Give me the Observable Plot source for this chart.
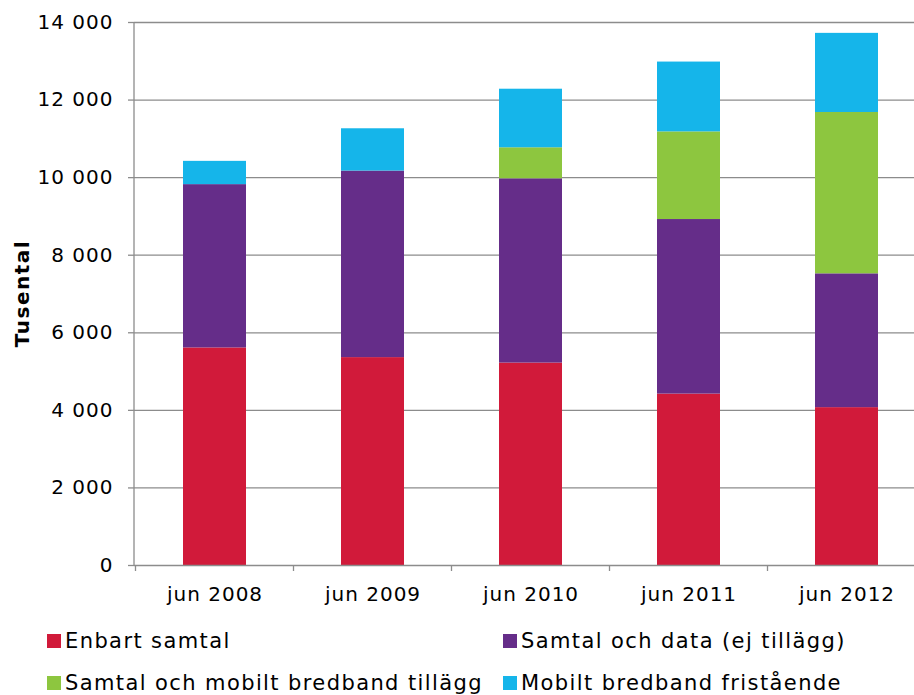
<!DOCTYPE html>
<html><head><meta charset="utf-8">
<script src="https://cdn.jsdelivr.net/npm/d3@7"></script>
<script src="https://cdn.jsdelivr.net/npm/@observablehq/plot@0.6"></script>
<style>
body{margin:0;background:#fff;font-family:"DejaVu Sans",sans-serif;}
#wrap{position:relative;width:914px;height:695px;overflow:hidden}
#chart svg{display:block}
.leg{position:absolute;display:flex;align-items:center;height:26px;font-size:21px;letter-spacing:1.4px;color:#000;white-space:nowrap}
.sw{width:14px;height:14px;margin-right:4px;flex:none}
</style></head><body>
<div id="wrap"><div id="chart"></div><div id="legend"></div></div>
<script>
const periods = ["jun 2008","jun 2009","jun 2010","jun 2011","jun 2012"];
const seriesNames = ["Enbart samtal","Samtal och data (ej tillägg)","Samtal och mobilt bredband tillägg","Mobilt bredband fristående"];
const enbartSamtal = [5610,5360,5220,4420,4070];
const samtalOchData = [4210,4810,4750,4500,3450];
const samtalMobiltTillagg = [0,0,800,2260,4160];
const mobiltFristaende = [600,1090,1510,1800,2040];
const seriesColors = ["#D11A3A","#652D89","#8DC63F","#15B5EA"];
const yTicks = [0,2000,4000,6000,8000,10000,12000,14000];
const yTitle = "Tusental";

const seriesValues = [enbartSamtal, samtalOchData, samtalMobiltTillagg, mobiltFristaende];
const rows = [];
seriesNames.forEach((s, si) => periods.forEach((p, pi) => {
  if (seriesValues[si][pi] > 0) rows.push({period: p, series: s, value: seriesValues[si][pi]});
}));

const fmt = d => d3.format(",")(d).replace(/,/g, " ");

function axisLines(index, scales, values, dimensions) {
  const x = scales.x, y = scales.y;
  const step = x.step(), bw = x.bandwidth();
  const root = d3.create("svg:g");
  const g = root.append("g").attr("stroke", "#8c8c8c").attr("stroke-width", 1.3);
  const y0 = y(0);
  g.append("line").attr("x1", dimensions.marginLeft).attr("x2", dimensions.marginLeft)
    .attr("y1", y(yTicks[yTicks.length-1])).attr("y2", y0);
  const bounds = periods.map(p => x(p) - (step - bw) / 2);
  bounds.push(x(periods[periods.length-1]) + bw + (step - bw) / 2);
  for (const b of bounds) {
    g.append("line").attr("x1", b).attr("x2", b).attr("y1", y0).attr("y2", y0 + 6);
  }
  const cy = (dimensions.marginTop + dimensions.height - dimensions.marginBottom) / 2;
  root.append("text")
    .attr("transform", `translate(${dimensions.marginLeft - 112},${cy}) rotate(-90)`)
    .attr("text-anchor", "middle").attr("dy", "0.35em")
    .attr("font-weight", "bold").attr("font-size", 20).attr("letter-spacing", "1.5px")
    .attr("fill", "#000").text(yTitle);
  return root.node();
}

const chart = Plot.plot({
  width: 914, height: 615,
  marginLeft: 134, marginRight: 0, marginTop: 22, marginBottom: 50,
  style: {fontFamily: "DejaVu Sans", fontSize: "20px", color: "#000", overflow: "visible", letterSpacing: "1px"},
  x: {domain: periods, range: [134, 926.5], paddingInner: 0.6, paddingOuter: 0.3, label: null},
  y: {domain: [0, 14000], label: null},
  color: {domain: seriesNames, range: seriesColors},
  marks: [
    Plot.ruleY(yTicks.filter(d => d > 0), {stroke: "#8c8c8c", strokeWidth: 1.3}),
    Plot.barY(rows, {x: "period", y: "value", fill: "series", order: seriesNames}),
    Plot.ruleY([0], {stroke: "#8c8c8c", strokeWidth: 1.3}),
    Plot.axisY({ticks: yTicks, tickSize: 6, tickPadding: 15, tickFormat: fmt, stroke: "#8c8c8c", strokeWidth: 1.3, label: null}),
    Plot.axisX({tickSize: 0, tickPadding: 21, label: null}),
    axisLines
  ]
});
document.getElementById("chart").appendChild(chart);

const legendPos = [[47, 628], [503, 628], [47, 670], [503, 670]];
const legend = document.getElementById("legend");
seriesNames.forEach((s, i) => {
  const item = document.createElement("div");
  item.className = "leg";
  item.style.left = legendPos[i][0] + "px";
  item.style.top = legendPos[i][1] + "px";
  item.innerHTML = `<span class="sw" style="background:${seriesColors[i]}"></span><span>${s}</span>`;
  legend.appendChild(item);
});
</script>
</body></html>
